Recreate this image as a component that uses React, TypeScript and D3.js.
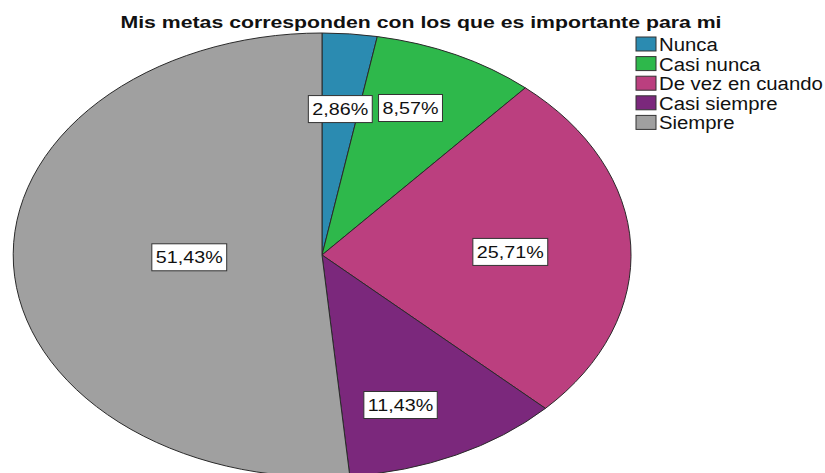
import React, { useEffect, useRef } from "react";
import * as d3 from "d3";

const title = "Mis metas corresponden con los que es importante para mi";
const categories = ["Nunca", "Casi nunca", "De vez en cuando", "Casi siempre", "Siempre"];
const percents = [2.86, 8.57, 25.71, 11.43, 51.43];
const colors = ["#2b8bb1", "#2eb84b", "#bb3f7f", "#7b287c", "#a0a0a0"];

// label placement (fraction of radius) and small nudges, like SPSS does
const labelRadius = [0.66, 0.66, 0.61, 0.72, 0.43];
const labelNudge: [number, number][] = [[0, 0], [0, -15], [0, 3], [-18, 6], [0, -2]];

const W = 825;
const H = 473;

export default function App() {
  const svgRef = useRef<SVGSVGElement>(null);

  useEffect(() => {
    if (!svgRef.current) return;
    const svg = d3.select(svgRef.current);
    svg.selectAll("*").remove();

    const cx = 322;
    const cy = 255;
    const rx = 309;
    const ry = 222;
    const font = "'Liberation Sans', Arial, sans-serif";
    const stretch = 1.16; // the original export is a bit wide

    // title
    svg.append("text")
      .attr("x", 421)
      .attr("y", 28)
      .attr("text-anchor", "middle")
      .attr("font-family", font)
      .attr("font-weight", "bold")
      .attr("font-size", 17)
      .attr("textLength", 601)
      .attr("lengthAdjust", "spacingAndGlyphs")
      .attr("fill", "#111")
      .text(title);

    const pie = d3.pie<number>().sort(null).value((d) => d);
    const arcs = pie(percents);
    const arc = d3.arc<d3.PieArcDatum<number>>().innerRadius(0).outerRadius(1);

    // unit circle pie, squashed into the ellipse
    const g = svg.append("g").attr("transform", `translate(${cx},${cy}) scale(${rx},${ry})`);
    g.selectAll("path")
      .data(arcs)
      .join("path")
      .attr("d", arc as any)
      .attr("fill", (_, i) => colors[i])
      .attr("stroke", "#2a2a2a")
      .attr("stroke-width", 1)
      .attr("vector-effect", "non-scaling-stroke");

    // value labels
    const labels = svg.append("g");
    arcs.forEach((a, i) => {
      const mid = (a.startAngle + a.endAngle) / 2;
      const r = labelRadius[i];
      const x = cx + rx * r * Math.sin(mid) + labelNudge[i][0];
      const y = cy - ry * r * Math.cos(mid) + labelNudge[i][1];
      const lg = labels.append("g");
      const rect = lg.append("rect").attr("fill", "#fff").attr("stroke", "#333").attr("stroke-width", 1);
      const t = lg.append("text")
        .attr("transform", `translate(${x},${y}) scale(${stretch},1)`)
        .attr("dy", "0.36em")
        .attr("text-anchor", "middle")
        .attr("font-family", font)
        .attr("font-size", 17)
        .attr("fill", "#111")
        .text(percents[i].toFixed(2).replace(".", ",") + "%");
      const bw = (t.node() as SVGTextElement).getBBox().width * stretch;
      rect.attr("x", x - bw / 2 - 4)
        .attr("y", y - 13.5)
        .attr("width", bw + 8)
        .attr("height", 27);
    });

    // legend
    const legend = svg.append("g").attr("transform", "translate(636,37)");
    const rowH = 19.6;
    categories.forEach((c, i) => {
      legend.append("rect")
        .attr("x", 0)
        .attr("y", i * rowH)
        .attr("width", 20)
        .attr("height", 14)
        .attr("fill", colors[i])
        .attr("stroke", "#333")
        .attr("stroke-width", 1);
      legend.append("text")
        .attr("transform", `translate(23,${i * rowH + 14}) scale(1.13,1)`)
        .attr("font-family", font)
        .attr("font-size", 18)
        .attr("fill", "#111")
        .text(c);
    });
  }, []);

  return (
    <svg
      ref={svgRef}
      width={W}
      height={H}
      style={{ position: "absolute", left: 0, top: 0, background: "#fff" }}
    />
  );
}
